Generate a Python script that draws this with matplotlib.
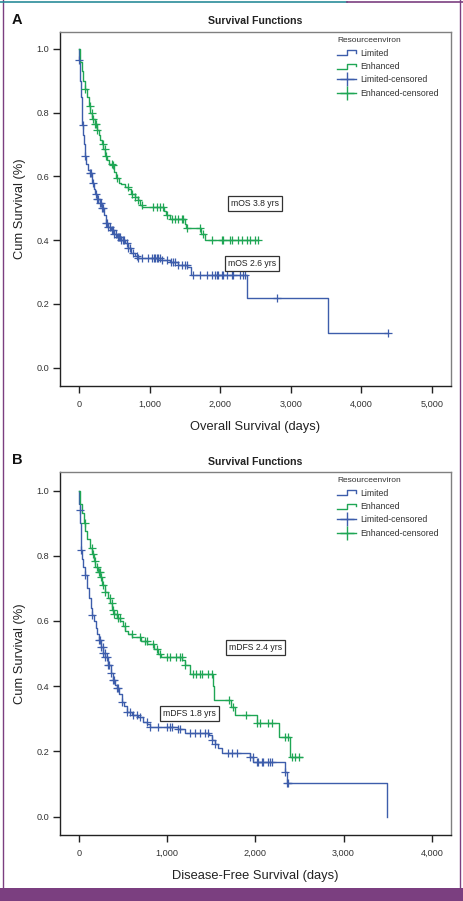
import numpy as np
import matplotlib
matplotlib.use("Agg")
import matplotlib.pyplot as plt
from matplotlib.lines import Line2D
from matplotlib.legend_handler import HandlerBase

plt.rcParams['font.family'] = ['Liberation Sans', 'DejaVu Sans']

# ---------------- Data: Panel A (Overall Survival) ----------------
os_lim_t = [0, 5, 15, 25, 35, 45, 55, 70, 85, 105, 130, 155, 185, 210, 230, 260, 290, 320, 350,
            380, 410, 450, 490, 540, 600, 650, 700, 740, 790, 840, 1150, 1290, 1400, 1530, 1580,
            2375, 3532]
os_lim_s = [1.0, 0.965, 0.90, 0.85, 0.80, 0.76, 0.73, 0.70, 0.665, 0.64, 0.62, 0.61, 0.58, 0.56,
            0.545, 0.53, 0.515, 0.50, 0.48, 0.455, 0.44, 0.43, 0.42, 0.41, 0.40, 0.39, 0.375, 0.36,
            0.35, 0.345, 0.338, 0.33, 0.322, 0.315, 0.29, 0.218, 0.108]
os_lim_end = 4372
os_lim_cens = [5, 52, 85, 156, 165, 203, 240, 260, 274, 290, 310, 330, 345, 380, 400, 415, 440,
               460, 486, 500, 520, 545, 560, 581, 600, 620, 640, 675, 700, 722, 760, 817, 840,
               888, 983, 1030, 1060, 1080, 1100, 1120, 1140, 1171, 1250, 1300, 1336, 1360, 1407,
               1460, 1501, 1525, 1619, 1714, 1809, 1879, 1926, 1950, 1973, 2021, 2044, 2091,
               2162, 2186, 2280, 2328, 2352, 2800, 4372]

os_enh_t = [0, 20, 40, 60, 85, 110, 135, 160, 190, 220, 250, 280, 300, 320, 345, 370, 400, 430,
            470, 500, 530, 560, 600, 650, 700, 740, 790, 830, 870, 890, 1200, 1230, 1290, 1500,
            1520, 1730, 1780]
os_enh_s = [1.0, 0.96, 0.93, 0.90, 0.875, 0.85, 0.82, 0.80, 0.78, 0.765, 0.745, 0.73, 0.715,
            0.70, 0.685, 0.665, 0.65, 0.64, 0.635, 0.615, 0.595, 0.58, 0.575, 0.565, 0.56, 0.545,
            0.535, 0.525, 0.51, 0.505, 0.49, 0.478, 0.465, 0.45, 0.437, 0.42, 0.40]
os_enh_end = 2536
os_enh_cens = [85, 156, 180, 203, 227, 241, 255, 344, 368, 382, 463, 477, 534, 699, 746, 793,
               840, 888, 1053, 1100, 1147, 1194, 1242, 1313, 1360, 1407, 1454, 1478, 1525, 1714,
               1761, 1890, 2021, 2045, 2139, 2160, 2252, 2304, 2375, 2422, 2493, 2536]

# ---------------- Data: Panel B (Disease-Free Survival) ----------------
dfs_lim_t = [0, 5, 11, 15, 20, 23, 30, 45, 68, 90, 110, 135, 151, 170, 190, 210, 231, 255, 276,
             300, 333, 360, 389, 410, 427, 450, 484, 510, 541, 600, 672, 729, 770, 805, 1126,
             1202, 1470, 1504, 1540, 1580, 1618, 1939, 1977, 2336, 2362, 3489]
dfs_lim_s = [1.0, 0.96, 0.94, 0.90, 0.85, 0.818, 0.79, 0.765, 0.741, 0.70, 0.67, 0.64, 0.619,
             0.60, 0.58, 0.56, 0.542, 0.52, 0.501, 0.49, 0.465, 0.44, 0.419, 0.405, 0.394, 0.375,
             0.353, 0.34, 0.322, 0.312, 0.307, 0.291, 0.283, 0.276, 0.268, 0.256, 0.25, 0.235,
             0.222, 0.21, 0.196, 0.184, 0.169, 0.138, 0.104, 0.0]
dfs_lim_end = 3489
dfs_lim_cens = [11, 23, 68, 151, 231, 240, 255, 270, 276, 290, 300, 320, 333, 345, 360, 389,
                395, 427, 440, 484, 541, 578, 616, 654, 692, 767, 805, 899, 1000, 1030, 1055,
                1126, 1145, 1258, 1315, 1372, 1429, 1466, 1504, 1542, 1693, 1731, 1788, 1939,
                1976, 2015, 2033, 2071, 2090, 2147, 2166, 2185, 2340, 2362, 2370]

dfs_enh_t = [0, 15, 35, 55, 70, 95, 120, 145, 165, 185, 215, 240, 265, 295, 325, 355, 380, 400,
             430, 470, 500, 525, 560, 600, 700, 770, 850, 900, 930, 1170, 1200, 1258, 1515,
             1535, 1720, 1770, 2020, 2265, 2392]
dfs_enh_s = [1.0, 0.96, 0.93, 0.90, 0.875, 0.85, 0.825, 0.805, 0.785, 0.765, 0.75, 0.735, 0.71,
             0.69, 0.67, 0.655, 0.635, 0.62, 0.61, 0.60, 0.585, 0.57, 0.56, 0.55, 0.54, 0.53,
             0.515, 0.50, 0.49, 0.48, 0.465, 0.437, 0.40, 0.358, 0.337, 0.312, 0.286, 0.245,
             0.182]
dfs_enh_end = 2525
dfs_enh_cens = [68, 144, 160, 181, 200, 225, 238, 255, 276, 295, 351, 370, 389, 400, 427, 446,
                465, 522, 597, 692, 748, 767, 843, 880, 918, 994, 1032, 1100, 1140, 1164, 1202,
                1296, 1330, 1372, 1400, 1466, 1504, 1701, 1746, 1890, 2022, 2053, 2147, 2185,
                2336, 2373, 2411, 2449, 2498]

legend_labels = ["Limited", "Enhanced", "Limited-censored", "Enhanced-censored"]
legend_title = "Resourceenviron"

BLUE = "#3d5dab"
GREEN = "#1fa655"


def surv_at(t_steps, s_steps, t):
    idx = np.searchsorted(np.asarray(t_steps), t, side='right') - 1
    return np.asarray(s_steps)[idx]


def draw_curve(ax, t, s, end, cens, color):
    tt = list(t) + [end]
    ss = list(s) + [s[-1]]
    ax.step(tt, ss, where='post', color=color, lw=1.0, zorder=3)
    ct = np.asarray(cens, dtype=float)
    cy = surv_at(t, s, ct)
    ax.plot(ct, cy, ls='none', marker='+', ms=6.2, mew=0.9, color=color, zorder=4)


class StepHandler(HandlerBase):
    def __init__(self, color):
        super().__init__()
        self.color = color

    def create_artists(self, legend, orig_handle, xdescent, ydescent, width, height, fontsize,
                       trans):
        x0 = -xdescent
        y0 = -ydescent
        xs = [x0, x0 + 0.5 * width, x0 + 0.5 * width, x0 + width, x0 + width]
        ys = [y0 + 0.05 * height, y0 + 0.05 * height, y0 + 0.85 * height, y0 + 0.85 * height,
              y0 + 0.45 * height]
        ln = Line2D(xs, ys, color=self.color, lw=1.0, transform=trans)
        return [ln]


def style_axes(ax, xmax_tick, xlim, ylim):
    ax.set_xlim(*xlim)
    ax.set_ylim(*ylim)
    ax.set_xticks(np.arange(0, xmax_tick + 1, 1000))
    ax.set_xticklabels([f"{v:,}" for v in np.arange(0, xmax_tick + 1, 1000)])
    ax.set_yticks([0.0, 0.2, 0.4, 0.6, 0.8, 1.0])
    ax.set_yticklabels(["0.0", "0.2", "0.4", "0.6", "0.8", "1.0"])
    ax.tick_params(axis='both', direction='out', length=5, width=1.0, labelsize=6.6,
                   colors='#222222', labelcolor='#333333', pad=2.5)
    ax.tick_params(axis='x', pad=5)
    for side in ['left', 'bottom']:
        ax.spines[side].set_color('#222222')
        ax.spines[side].set_linewidth(1.0)
    for side in ['top', 'right']:
        ax.spines[side].set_color('#808080')
        ax.spines[side].set_linewidth(1.0)
    ax.set_ylabel("Cum Survival (%)", fontsize=9.3, color='#222222', labelpad=8)


def add_legend(ax, y_anchor):
    handles = [Line2D([], [], color=BLUE), Line2D([], [], color=GREEN),
               Line2D([], [], color=BLUE, marker='+', ms=10, mew=1.0, lw=1.0),
               Line2D([], [], color=GREEN, marker='+', ms=10, mew=1.0, lw=1.0)]
    leg = ax.legend(handles, legend_labels, title=legend_title, loc='upper left',
                    bbox_to_anchor=(0.70, y_anchor), frameon=False, fontsize=6.3,
                    title_fontsize=6.0, handlelength=2.2, handletextpad=0.4, labelspacing=0.5,
                    borderaxespad=0.0, alignment='left',
                    handler_map={handles[0]: StepHandler(BLUE), handles[1]: StepHandler(GREEN)})
    for t in leg.get_texts():
        t.set_color('#333333')
    leg.get_title().set_color('#333333')


def add_box(ax, x, y, text):
    ax.text(x, y, text, ha='center', va='center', fontsize=6.2, color='#222222', zorder=5,
            bbox=dict(boxstyle='square,pad=0.35', fc='white', ec='#333333', lw=0.9))


fig = plt.figure(figsize=(4.63, 9.01), dpi=100)
fig.patch.set_facecolor('white')

# Panel A
axA = fig.add_axes([0.1296, 0.5716, 0.8445, 0.3929])
draw_curve(axA, os_lim_t, os_lim_s, os_lim_end, os_lim_cens, BLUE)
draw_curve(axA, os_enh_t, os_enh_s, os_enh_end, os_enh_cens, GREEN)
style_axes(axA, 5000, (-270, 5270), (-0.058, 1.053))
axA.set_xlabel("Overall Survival (days)", fontsize=9.3, color='#222222', labelpad=9)
add_legend(axA, 0.995)
add_box(axA, 2497, 0.516, "mOS 3.8 yrs")
add_box(axA, 2446, 0.326, "mOS 2.6 yrs")

# Panel B
axB = fig.add_axes([0.1296, 0.0733, 0.8445, 0.4029])
draw_curve(axB, dfs_lim_t, dfs_lim_s, dfs_lim_end, dfs_lim_cens, BLUE)
draw_curve(axB, dfs_enh_t, dfs_enh_s, dfs_enh_end, dfs_enh_cens, GREEN)
style_axes(axB, 4000, (-215, 4218), (-0.056, 1.057))
axB.set_xlabel("Disease-Free Survival (days)", fontsize=9.3, color='#222222', labelpad=9)
add_legend(axB, 0.995)
add_box(axB, 1999, 0.52, "mDFS 2.4 yrs")
add_box(axB, 1258, 0.317, "mDFS 1.8 yrs")

# Titles and panel letters
fig.text(0.552, 1 - 21 / 901, "Survival Functions", ha='center', va='center', fontsize=7.6,
         fontweight='bold', color='#222222')
fig.text(0.552, 1 - 462 / 901, "Survival Functions", ha='center', va='center', fontsize=7.6,
         fontweight='bold', color='#222222')
fig.text(12 / 463, 1 - 20 / 901, "A", ha='left', va='center', fontsize=10.5, fontweight='bold',
         color='#111111')
fig.text(12 / 463, 1 - 460 / 901, "B", ha='left', va='center', fontsize=10.5, fontweight='bold',
         color='#111111')

# Outer frame
PURPLE = "#7b3f80"
TEAL = "#2a8c9a"
fig.add_artist(Line2D([3 / 463, 3 / 463], [0, 1], color=PURPLE, lw=1.0, transform=fig.transFigure))
fig.add_artist(Line2D([459.5 / 463, 459.5 / 463], [0, 1], color=PURPLE, lw=1.0,
                      transform=fig.transFigure))
fig.add_artist(Line2D([0, 347 / 463], [1 - 1.5 / 901, 1 - 1.5 / 901], color=TEAL, lw=1.2,
                      transform=fig.transFigure))
fig.add_artist(Line2D([347 / 463, 1], [1 - 1.5 / 901, 1 - 1.5 / 901], color=PURPLE, lw=1.2,
                      transform=fig.transFigure))
fig.patches.append(plt.Rectangle((0, 0), 1, 13 / 901, transform=fig.transFigure,
                                 facecolor=PURPLE, edgecolor='none', zorder=10))

fig.savefig("out.png", dpi=100, facecolor='white')
